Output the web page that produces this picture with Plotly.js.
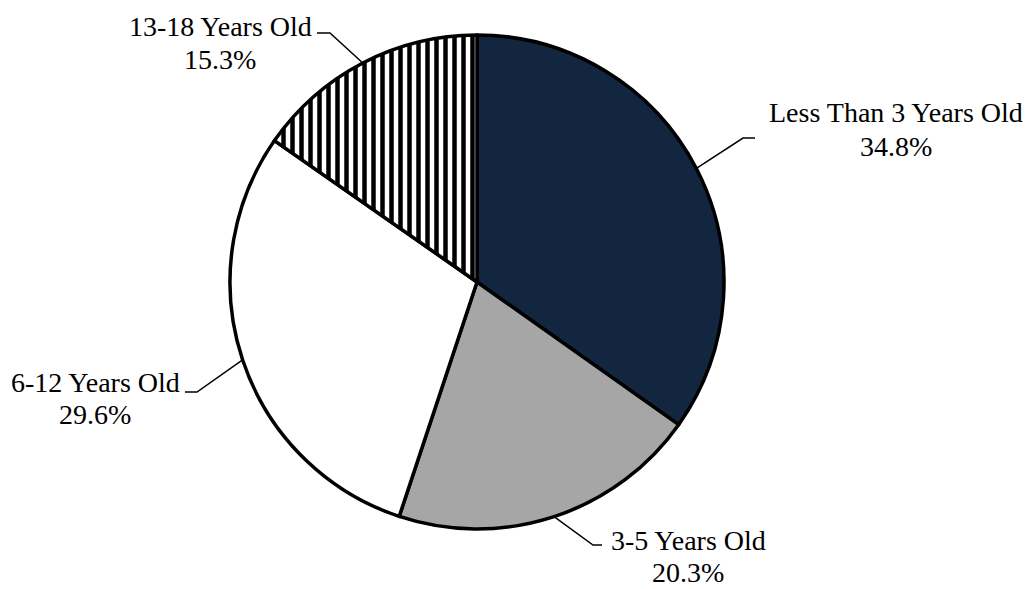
<!DOCTYPE html>
<html><head><meta charset="utf-8">
<script src="https://cdn.plot.ly/plotly-3.0.1.min.js"></script>
<style>html,body{margin:0;padding:0;background:#fff}#chart{width:1027px;height:589px}</style>
</head><body><div id="chart"></div>
<script>
// ---- data ----
const categories = ['Less Than 3 Years Old', '3-5 Years Old', '6-12 Years Old', '13-18 Years Old'];
const shares = [34.8, 20.3, 29.6, 15.3];

// ---- style ----
const sliceColors = ['#13263f', '#a6a6a6', '#ffffff', '#ffffff'];
const slicePatterns = ['', '', '', '|'];

const W = 1027, H = 589;
const CX = 477, CY = 282, R = 247;           // pie centre / radius in pixels
const FONT = 'Liberation Serif, Times New Roman, serif';
const FS = 28;

// label placement (pixels): name centre, percent centre, leader elbow and end
const labelLayout = [
  {x: 896, ny: 112, py: 146, elbow: [743, 138], end: [755, 138]},
  {x: 688, ny: 540, py: 572, elbow: [593, 545], end: [602, 545]},
  {x: 95,  ny: 382, py: 414, elbow: [197, 392], end: [185, 392]},
  {x: 220, ny: 27,  py: 60,  elbow: [330, 33],  end: [317, 33]}
];

const px = x => x / W;
const py = y => 1 - y / H;

const total = shares.reduce((a, b) => a + b, 0);
let cum = 0;
const annotations = [];
const shapes = [];
shares.forEach((v, i) => {
  const mid = (cum + v / 2) / total * 2 * Math.PI;
  cum += v;
  const sx = CX + R * Math.sin(mid);
  const sy = CY - R * Math.cos(mid);
  const L = labelLayout[i];
  shapes.push({
    type: 'path', xref: 'paper', yref: 'paper',
    path: `M ${px(sx)} ${py(sy)} L ${px(L.elbow[0])} ${py(L.elbow[1])} L ${px(L.end[0])} ${py(L.end[1])}`,
    line: {color: '#000', width: 1.5}
  });
  annotations.push({
    xref: 'paper', yref: 'paper', x: px(L.x), y: py(L.ny), xanchor: 'center', yanchor: 'middle',
    text: categories[i], showarrow: false, borderpad: 0, font: {family: FONT, size: FS, color: '#000'}
  });
  annotations.push({
    xref: 'paper', yref: 'paper', x: px(L.x), y: py(L.py), xanchor: 'center', yanchor: 'middle',
    text: v.toFixed(1) + '%', showarrow: false, borderpad: 0, font: {family: FONT, size: FS, color: '#000'}
  });
});

const trace = {
  type: 'pie',
  labels: categories,
  values: shares,
  sort: false,
  direction: 'clockwise',
  rotation: 0,
  textinfo: 'none',
  hoverinfo: 'none',
  showlegend: false,
  domain: {x: [(CX - R) / W, (CX + R) / W], y: [1 - (CY + R) / H, 1 - (CY - R) / H]},
  marker: {
    colors: sliceColors,
    line: {color: '#000', width: 3.5},
    pattern: {shape: slicePatterns, fgcolor: '#000', bgcolor: '#ffffff', size: 9, solidity: 0.5}
  }
};

Plotly.newPlot('chart', [trace], {
  width: W, height: H,
  margin: {l: 0, r: 0, t: 0, b: 0},
  paper_bgcolor: '#fff',
  showlegend: false,
  annotations: annotations,
  shapes: shapes
}, {displayModeBar: false, staticPlot: true});
</script>
</body></html>
